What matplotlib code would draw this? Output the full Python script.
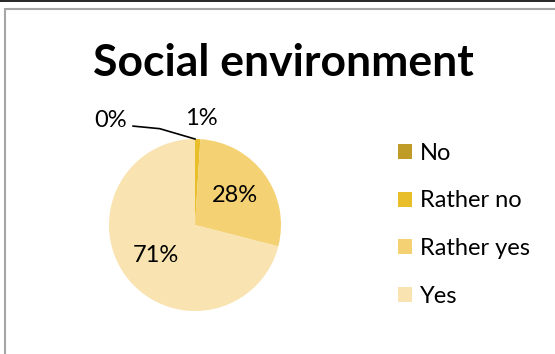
import matplotlib
matplotlib.use('Agg')
import matplotlib.pyplot as plt
import numpy as np

plt.rcParams['font.family'] = ['Lato', 'DejaVu Sans']

categories = ['No', 'Rather no', 'Rather yes', 'Yes']
shares = [0, 1, 28, 71]
colors = ['#BF9B28', '#E8BE2A', '#F4D172', '#F9E3B0']

W, H = 555, 354
fig = plt.figure(figsize=(W / 100, H / 100), dpi=100)

# chart frame, as it sits in the document page
fig.add_artist(plt.Rectangle((5 / W, -0.05), 1.1, 1 - 9 / H + 0.05, transform=fig.transFigure,
                             fill=False, edgecolor='#A6A6A6', linewidth=1.5))
fig.add_artist(plt.Line2D([0, 1], [1 - 1 / H, 1 - 1 / H], transform=fig.transFigure,
                          color='black', linewidth=1.2))

fig.text(283 / W, 1 - 63 / H, 'Social environment', ha='center', va='center',
         fontsize=32, fontweight='bold')

# pie area: centre (195, 225), radius 86 px
cx, cy, r = 195, 225, 86
ax = fig.add_axes([(cx - r) / W, 1 - (cy + r) / H, 2 * r / W, 2 * r / H])
wedges, _ = ax.pie(shares, colors=colors, startangle=90, counterclock=False,
                   wedgeprops=dict(linewidth=0))
ax.set_xlim(-1, 1)
ax.set_ylim(-1, 1)
ax.set_aspect('equal')

def mid_angle(w):
    return np.deg2rad((w.theta1 + w.theta2) / 2)

fs = 17
for w, v in zip(wedges, shares):
    a = mid_angle(w)
    label = f'{v}%'
    if v >= 10:
        ax.text(0.58 * np.cos(a), 0.58 * np.sin(a), label, ha='center', va='center',
                fontsize=fs, clip_on=False)
    elif v > 0:
        ax.text(1.26 * np.cos(a) + 0.03, 1.26 * np.sin(a) - 0.02, label, ha='center',
                va='center', fontsize=fs, clip_on=False)
    else:
        # leader line for the empty slice
        tip = (np.cos(a), np.sin(a))
        ax.plot([tip[0], -0.41, -0.72], [tip[1], 1.12, 1.15], color='black',
                linewidth=1.2, clip_on=False)
        ax.text(-0.98, 1.22, label, ha='center', va='center', fontsize=fs, clip_on=False)

fig.legend(wedges, categories, loc='upper left', bbox_to_anchor=(386 / W, 1 - 131 / H),
           frameon=False, fontsize=fs, handlelength=0.6, handleheight=0.6,
           handletextpad=0.35, labelspacing=1.13, borderpad=0)

fig.savefig('out.png', dpi=100)
